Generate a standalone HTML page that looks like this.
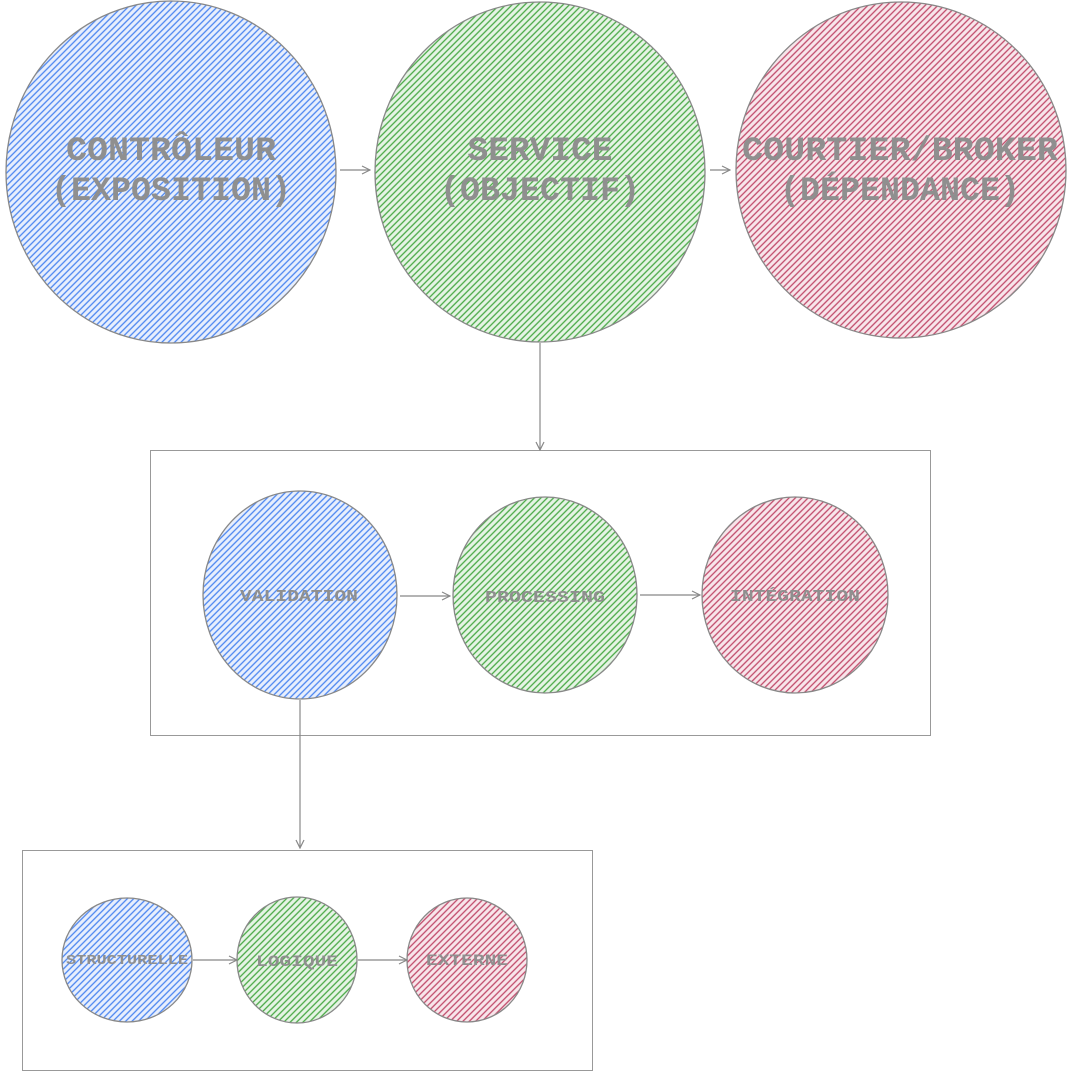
<!DOCTYPE html>
<html><head><meta charset="utf-8"><style>html,body{margin:0;padding:0;background:#fff}svg{display:block}</style></head>
<body>
<svg width="1071" height="1071" viewBox="0 0 1071 1071" xmlns="http://www.w3.org/2000/svg">
<defs>
<pattern id="pb" patternUnits="userSpaceOnUse" width="4.5" height="4.5" patternTransform="rotate(-45)"><rect width="4.5" height="4.5" fill="#e8effd"/><line x1="0" y1="1" x2="4.5" y2="1" stroke="#4a85f0" stroke-width="1.3"/></pattern>
<pattern id="pg" patternUnits="userSpaceOnUse" width="4.5" height="4.5" patternTransform="rotate(-45)"><rect width="4.5" height="4.5" fill="#e6f4e5"/><line x1="0" y1="1" x2="4.5" y2="1" stroke="#48a845" stroke-width="1.3"/></pattern>
<pattern id="pr" patternUnits="userSpaceOnUse" width="4.5" height="4.5" patternTransform="rotate(-45)"><rect width="4.5" height="4.5" fill="#f8e6eb"/><line x1="0" y1="1" x2="4.5" y2="1" stroke="#c04a6a" stroke-width="1.3"/></pattern>
<marker id="ar" markerWidth="10" markerHeight="10" refX="9" refY="5" orient="auto" markerUnits="userSpaceOnUse"><path d="M1,1 L9,5 L1,9" fill="none" stroke="#888" stroke-width="1.2"/></marker>
</defs>
<g stroke="#888" stroke-width="1.3">
<ellipse cx="171" cy="172" rx="165" ry="171" fill="url(#pb)"/>
<ellipse cx="540" cy="172" rx="165" ry="170" fill="url(#pg)"/>
<ellipse cx="901" cy="170" rx="165" ry="168" fill="url(#pr)"/>
</g>
<g fill="none" stroke="#999" stroke-width="1">
<rect x="150.5" y="450.5" width="780" height="285"/>
<rect x="22.5" y="850.5" width="570" height="220"/>
</g>
<g stroke="#888" stroke-width="1.3">
<ellipse cx="300" cy="595" rx="97" ry="104" fill="url(#pb)"/>
<ellipse cx="545" cy="595" rx="92" ry="98" fill="url(#pg)"/>
<ellipse cx="795" cy="595" rx="93" ry="98" fill="url(#pr)"/>
<ellipse cx="127" cy="960" rx="65" ry="62" fill="url(#pb)"/>
<ellipse cx="297" cy="960" rx="60" ry="63" fill="url(#pg)"/>
<ellipse cx="467" cy="960" rx="60" ry="62" fill="url(#pr)"/>
</g>
<g stroke="#888" stroke-width="1.2" fill="none" marker-end="url(#ar)">
<line x1="340" y1="170" x2="370" y2="170"/>
<line x1="710" y1="170" x2="730" y2="170"/>
<line x1="540" y1="343" x2="540" y2="450"/>
<line x1="400" y1="596" x2="450" y2="596"/>
<line x1="640" y1="595" x2="700" y2="595"/>
<line x1="300" y1="700" x2="300" y2="848"/>
<line x1="193" y1="960" x2="237" y2="960"/>
<line x1="358" y1="960" x2="407" y2="960"/>
</g>
<g font-family="'Liberation Mono', monospace" font-weight="bold" fill="#8f8f8f" text-anchor="middle">
<text x="171" y="160" font-size="34" textLength="210" lengthAdjust="spacingAndGlyphs">CONTRÔLEUR</text>
<text x="171" y="200" font-size="34" textLength="240" lengthAdjust="spacingAndGlyphs">(EXPOSITION)</text>
<text x="540" y="160" font-size="34" textLength="145" lengthAdjust="spacingAndGlyphs">SERVICE</text>
<text x="540" y="200" font-size="34" textLength="200" lengthAdjust="spacingAndGlyphs">(OBJECTIF)</text>
<text x="900" y="160" font-size="34" textLength="316" lengthAdjust="spacingAndGlyphs">COURTIER/BROKER</text>
<text x="900" y="200" font-size="34" textLength="240" lengthAdjust="spacingAndGlyphs">(DÉPENDANCE)</text>
<text x="299" y="601" font-size="17" textLength="118" lengthAdjust="spacingAndGlyphs">VALIDATION</text>
<text x="545" y="602" font-size="17" textLength="120" lengthAdjust="spacingAndGlyphs">PROCESSING</text>
<text x="795" y="601" font-size="17" textLength="130" lengthAdjust="spacingAndGlyphs">INTÉGRATION</text>
<text x="127" y="964" font-size="14" textLength="122" lengthAdjust="spacingAndGlyphs">STRUCTURELLE</text>
<text x="297" y="966" font-size="16" textLength="82" lengthAdjust="spacingAndGlyphs">LOGIQUE</text>
<text x="467" y="965" font-size="16" textLength="82" lengthAdjust="spacingAndGlyphs">EXTERNE</text>
</g>
</svg>
</body></html>
